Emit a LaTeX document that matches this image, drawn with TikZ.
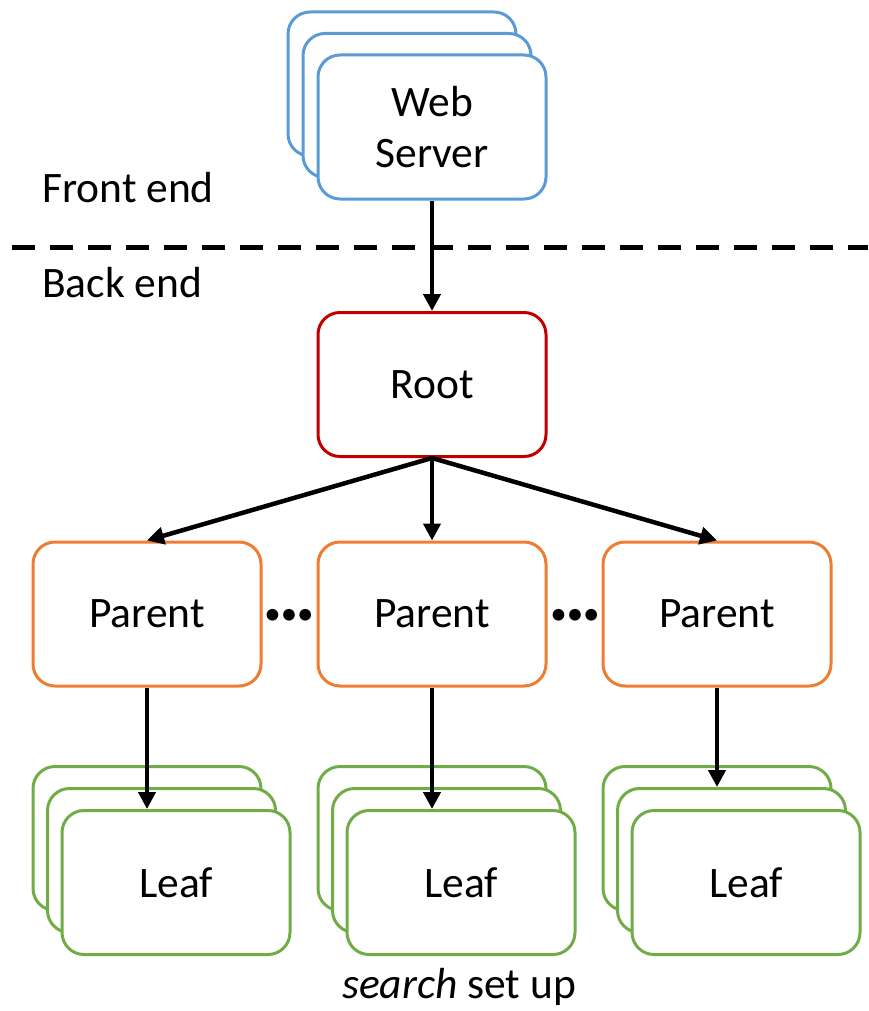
\documentclass[tikz,border=0pt]{standalone}
\usepackage{fontspec}
\setmainfont{Carlito}
\usetikzlibrary{arrows.meta}
\definecolor{wsblue}{HTML}{5B9BD5}
\definecolor{rootred}{HTML}{C00000}
\definecolor{parorange}{HTML}{ED7D31}
\definecolor{leafgreen}{HTML}{70AD47}
\tikzset{
  box/.style={draw, fill=white, rounded corners=22pt, line width=3pt,
    minimum width=228pt, minimum height=144pt, inner sep=0pt, align=center,
    font=\fontsize{43.5}{51}\selectfont},
  wsbox/.style={box, draw=wsblue},
  rootbox/.style={box, draw=rootred},
  parbox/.style={box, draw=parorange},
  leafbox/.style={box, draw=leafgreen},
  conn/.style={line width=4.5pt, -{Triangle[length=17pt,width=17pt]}},
  label/.style={font=\fontsize{43.5}{51}\selectfont, inner sep=0pt},
  dots/.style={font=\fontsize{33}{40}\selectfont, inner sep=0pt}
}
\begin{document}
\begin{tikzpicture}[x=1pt,y=-1pt]
\useasboundingbox (0,0) rectangle (868,1011);

% web server stack
\node[wsbox] (ws1) at (402,84) {};
\node[wsbox] (ws2) at (417,105.5) {};
\node[wsbox] (ws) at (432,127) {Web\\Server};

% front end / back end separator
\coordinate (dl) at (0,247);
\coordinate (dr) at (868,247);
\draw[line width=5pt, dash pattern=on 23pt off 15pt, dash phase=26pt] (dl) -- (dr);
\node[label, anchor=base west] (fe) at (42,203) {Front end};
\node[label, anchor=base west] (be) at (42,297) {Back end};

% root
\node[rootbox] (root) at (432,384.5) {Root};

% parents
\node[parbox] (p1) at (147,614) {Parent};
\node[parbox] (p2) at (432,614) {Parent};
\node[parbox] (p3) at (717,614) {Parent};
\node[dots] (d1) at (289,617) {•••};
\node[dots] (d2) at (575,617) {•••};

% leaf stacks
\node[leafbox] (l1a) at (147,838.5) {};
\node[leafbox] (l1b) at (161.5,860.5) {};
\node[leafbox] (l1c) at (176,882.5) {Leaf};
\node[leafbox] (l2a) at (432,838.5) {};
\node[leafbox] (l2b) at (446.5,860.5) {};
\node[leafbox] (l2c) at (461,882.5) {Leaf};
\node[leafbox] (l3a) at (717,838.5) {};
\node[leafbox] (l3b) at (731.5,860.5) {};
\node[leafbox] (l3c) at (746,882.5) {Leaf};

\node[label, anchor=base] (cap) at (459,998) {\textit{search} set up};

% connectors
\draw[conn] (ws.south) -- (root.north);
\draw[conn] (root.south) -- (p1.north);
\draw[conn] (root.south) -- (p2.north);
\draw[conn] (root.south) -- (p3.north);
\draw[conn] (p1.south) -- (p1.south |- l1c.north);
\draw[conn] (p2.south) -- (p2.south |- l2c.north);
\draw[conn] (p3.south) -- (p3.south |- l3b.north);
\end{tikzpicture}
\end{document}
